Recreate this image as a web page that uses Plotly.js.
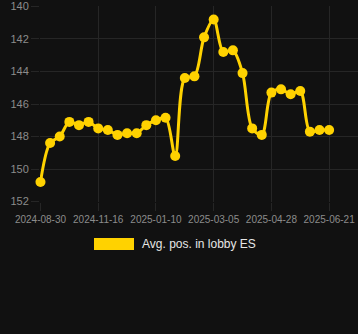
<!DOCTYPE html>
<html>
<head>
<meta charset="utf-8">
<script src="https://cdn.plot.ly/plotly-3.0.1.min.js"></script>
<style>
  html, body { margin: 0; padding: 0; background: #111111; }
  #chart { width: 358px; height: 334px; }
</style>
</head>
<body>
<div id="chart"></div>
<script>
// Categories (dates of each observation)
const dates = [
  "2024-08-30", "2024-09-12", "2024-09-25", "2024-10-08", "2024-10-21", "2024-11-03",
  "2024-11-16", "2024-11-25", "2024-12-04", "2024-12-13", "2024-12-23", "2025-01-01",
  "2025-01-10", "2025-01-19", "2025-01-28", "2025-02-06", "2025-02-15", "2025-02-24",
  "2025-03-05", "2025-03-14", "2025-03-23", "2025-04-01", "2025-04-10", "2025-04-19",
  "2025-04-28", "2025-05-07", "2025-05-16", "2025-05-25", "2025-06-03", "2025-06-12",
  "2025-06-21"
];

// Average position in lobby ES
const avgPos = [
  150.8, 148.4, 148.0, 147.1, 147.3, 147.1,
  147.5, 147.6, 147.9, 147.8, 147.8, 147.3,
  147.0, 146.85, 149.2, 144.4, 144.3, 141.9,
  140.8, 142.8, 142.7, 144.1, 147.5, 147.9,
  145.3, 145.1, 145.4, 145.2, 147.7, 147.6,
  147.6
];

// Tick labels shown on the x axis
const xTicks = ["2024-08-30", "2024-11-16", "2025-01-10", "2025-03-05", "2025-04-28", "2025-06-21"];
const yTicks = [140, 142, 144, 146, 148, 150, 152];

const seriesName = "Avg. pos. in lobby ES";
const gold = "#FFD200";

const trace = {
  type: "scatter",
  mode: "lines+markers",
  x: dates,
  y: avgPos,
  name: seriesName,
  showlegend: false,
  line: { color: gold, width: 3, shape: "spline", smoothing: 0.9 },
  marker: { color: gold, size: 10 },
  cliponaxis: false,
  hoverinfo: "x+y"
};

const gridColor = "#262626";

const layout = {
  width: 358,
  height: 334,
  paper_bgcolor: "#111111",
  plot_bgcolor: "#111111",
  margin: { l: 40, r: 0, t: 6, b: 132 },
  font: { family: "Liberation Sans, Arial, sans-serif", color: "#8a8a8a" },
  showlegend: false,
  xaxis: {
    type: "category",
    range: [-0.05, 33],
    tickmode: "array",
    tickvals: xTicks,
    ticktext: xTicks,
    showgrid: true,
    gridcolor: gridColor,
    zeroline: false,
    showline: false,
    ticks: "outside",
    ticklen: 8,
    tickcolor: gridColor,
    tickfont: { size: 10, color: "#8c8c8c" },
    tickangle: 0,
    fixedrange: true
  },
  yaxis: {
    range: [152.03, 139.97],
    tickmode: "array",
    tickvals: yTicks,
    ticktext: yTicks.map(String),
    showgrid: true,
    gridcolor: gridColor,
    zeroline: false,
    showline: false,
    ticks: "outside",
    ticklen: 8,
    tickcolor: gridColor,
    tickfont: { size: 11, color: "#8c8c8c" },
    fixedrange: true
  },
  shapes: [{
    type: "rect",
    xref: "paper", yref: "paper",
    x0: (94 - 40) / 318, x1: (134 - 40) / 318,
    y0: (202 - 250) / 196, y1: (202 - 238) / 196,
    fillcolor: gold,
    line: { width: 0 }
  }],
  annotations: [{
    xref: "paper", yref: "paper",
    x: (140 - 40) / 318, y: (202 - 244) / 196,
    xanchor: "left", yanchor: "middle",
    text: seriesName,
    showarrow: false,
    font: { size: 12, color: "#e6e6e6" }
  }]
};

Plotly.newPlot("chart", [trace], layout, { displayModeBar: false, staticPlot: true });
</script>
</body>
</html>
